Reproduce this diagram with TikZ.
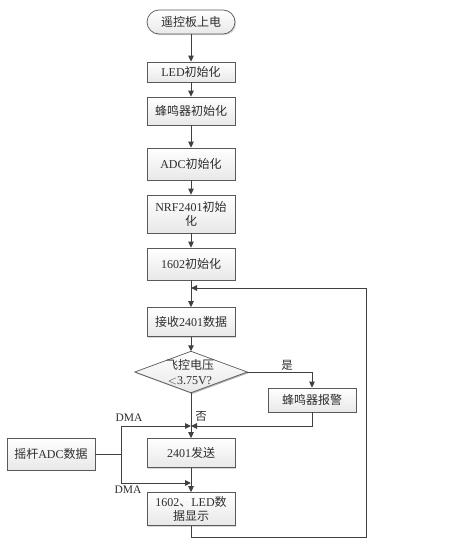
\documentclass[tikz,border=0pt]{standalone}
\usepackage{fontspec}
\setmainfont{Liberation Serif}
\newfontfamily\cjk{Noto Sans CJK SC}
\usetikzlibrary{arrows.meta,shadows,positioning}
\definecolor{linec}{HTML}{404040}
\definecolor{textc}{HTML}{2E2E2E}
\tikzset{
  box/.style={draw=gray!70!black, line width=0.7pt, top color=white, bottom color=gray!18,
    drop shadow={shadow xshift=1.2pt, shadow yshift=-1.2pt, fill=gray!60},
    minimum width=88pt, inner sep=1pt, align=center, text=textc,
    font=\fontsize{12}{14.5}\selectfont},
  conn/.style={draw=linec, line width=1pt},
  arr/.style={conn, -{Triangle[length=6pt,width=5.5pt]}},
  lbl/.style={text=textc, font=\fontsize{11.5}{13}\selectfont, inner sep=0pt}
}
\begin{document}
\begin{tikzpicture}[x=1pt,y=-1pt]
\useasboundingbox (0,0) rectangle (451,543);
\node[box, rounded corners=12pt, minimum height=24pt] (start) at (191,22) {{\cjk 遥控板上电}};
\node[box, minimum height=20pt] (led) at (191,72) {LED{\cjk 初始化}};
\node[box, minimum height=28pt] (buzz) at (191,111) {{\cjk 蜂鸣器初始化}};
\node[box, minimum height=32pt] (adc) at (191,164) {ADC{\cjk 初始化}};
\node[box, minimum height=38pt] (nrf) at (191,214) {NRF2401{\cjk 初始}\\{\cjk 化}};
\node[box, minimum height=32pt] (n1602) at (191,264) {1602{\cjk 初始化}};
\node[box, minimum height=29pt] (recv) at (191,322) {{\cjk 接收}2401{\cjk 数据}};
\node[minimum width=112pt, minimum height=41pt, inner sep=0pt] (dia) at (191,372) {};
\fill[gray!60] ([shift={(1.2pt,-1.2pt)}]dia.north) -- ([shift={(1.2pt,-1.2pt)}]dia.east) -- ([shift={(1.2pt,-1.2pt)}]dia.south) -- ([shift={(1.2pt,-1.2pt)}]dia.west) -- cycle;
\shade[top color=white, bottom color=gray!18, draw=gray!70!black, line width=0.7pt] (dia.north) -- (dia.east) -- (dia.south) -- (dia.west) -- cycle;
\node[align=center, text=textc, font=\fontsize{12}{14.5}\selectfont, inner sep=0pt] (diat) at (190,372) {{\cjk 飞控电压}\\$<$3.75V?};
\node[box, minimum height=24pt] (alarm) at (312,400) {{\cjk 蜂鸣器报警}};
\node[box, minimum height=29pt] (send) at (191,453) {2401{\cjk 发送}};
\node[box, minimum height=32pt] (js) at (51,454) {{\cjk 摇杆}ADC{\cjk 数据}};
\node[box, minimum height=33pt] (disp) at (191,509) {1602{\cjk 、}LED{\cjk 数}\\{\cjk 据显示}};

\coordinate (m) at (191,426);
\coordinate (m2) at (191,483);
\coordinate (jx) at (121,454);
\coordinate (loopIn) at (191,288);
\coordinate (lb) at (191,537);
\coordinate (lr) at (366,537);
\coordinate (lt) at (366,288);

\draw[arr] (start) -- (led);
\draw[arr] (led) -- (buzz);
\draw[arr] (buzz) -- (adc);
\draw[arr] (adc) -- (nrf);
\draw[arr] (nrf) -- (n1602);
\draw[arr] (n1602) -- (recv);
\draw[arr] (recv) -- (dia.north);
\draw[arr] (dia.east) -| (alarm.north);
\draw[arr] (dia.south) -- (send.north);
\draw[arr] (alarm.south) |- (m);
\draw[conn] (js.east) -- (jx);
\draw[arr] (jx) |- (m);
\draw[arr] (jx) |- (m2);
\draw[arr] (send) -- (disp);
\draw[arr] (disp.south) -- (lb) -- (lr) -- (lt) -- (loopIn);

\node[lbl] (yes) at (287,365) {{\cjk 是}};
\node[lbl] (no) at (201,416) {{\cjk 否}};
\node[lbl] (dma1) at (129,418) {DMA};
\node[lbl] (dma2) at (128,490) {DMA};
\end{tikzpicture}
\end{document}
